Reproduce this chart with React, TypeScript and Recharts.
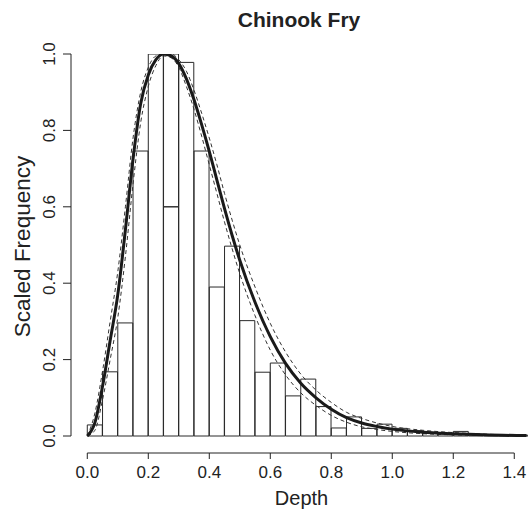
import React from 'react';
import { ComposedChart, Bar, Line, XAxis, YAxis, ReferenceLine } from 'recharts';

// histogram bins (width 0.05), scaled frequency
const binStarts = [
  0, 0.05, 0.1, 0.15, 0.2, 0.25, 0.3, 0.35, 0.4, 0.45,
  0.5, 0.55, 0.6, 0.65, 0.7, 0.75, 0.8, 0.85, 0.9, 0.95,
  1.0, 1.05, 1.1, 1.15, 1.2, 1.25, 1.3, 1.35, 1.4,
];
const binFreq = [
  0.029, 0.168, 0.296, 0.746, 1.0, 1.0, 0.978, 0.746, 0.39, 0.497,
  0.302, 0.167, 0.191, 0.105, 0.149, 0.077, 0.021, 0.05, 0.02, 0.031,
  0.02, 0.014, 0.008, 0.006, 0.012, 0.003, 0.004, 0.004, 0.002,
];
// inner division line seen inside one bin
const binSplit = [
  null, null, null, null, null, 0.6, null, null, null, null,
  null, null, null, null, null, null, null, null, null, null,
  null, null, null, null, null, null, null, null, null,
];

// fitted curve and its dashed bounds
const curveX = [
  0, 0.025, 0.05, 0.075, 0.1, 0.125, 0.15, 0.175, 0.2, 0.225,
  0.25, 0.275, 0.3, 0.325, 0.35, 0.375, 0.4, 0.425, 0.45, 0.475,
  0.5, 0.55, 0.6, 0.65, 0.7, 0.75, 0.8, 0.85, 0.9, 0.95,
  1.0, 1.1, 1.2, 1.3, 1.44,
];
const curveMid = [
  0, 0.035, 0.13, 0.25, 0.37, 0.54, 0.725, 0.87, 0.945, 0.985,
  1.0, 0.995, 0.975, 0.935, 0.88, 0.815, 0.745, 0.67, 0.595, 0.525,
  0.46, 0.35, 0.26, 0.19, 0.138, 0.1, 0.07, 0.048, 0.034, 0.025,
  0.018, 0.01, 0.006, 0.003, 0.001,
];
const curveUpper = [
  0, 0.06, 0.17, 0.3, 0.43, 0.6, 0.78, 0.9, 0.965, 0.995,
  1.0, 1.0, 0.985, 0.955, 0.905, 0.845, 0.78, 0.71, 0.635, 0.565,
  0.5, 0.39, 0.295, 0.22, 0.162, 0.12, 0.088, 0.062, 0.046, 0.034,
  0.025, 0.015, 0.009, 0.005, 0.002,
];
const curveLower = [
  0, 0.015, 0.095, 0.2, 0.31, 0.47, 0.66, 0.82, 0.915, 0.97,
  0.995, 0.99, 0.965, 0.915, 0.855, 0.785, 0.71, 0.635, 0.56, 0.49,
  0.425, 0.315, 0.225, 0.16, 0.113, 0.08, 0.054, 0.036, 0.024, 0.017,
  0.012, 0.006, 0.003, 0.0015, 0.0005,
];

const xTicks = [0, 0.2, 0.4, 0.6, 0.8, 1.0, 1.2, 1.4];
const yTicks = [0, 0.2, 0.4, 0.6, 0.8, 1.0];

const BIN_W = 0.05;
const X_MIN = -0.0534;
const X_MAX = 1.445;
const Y_MIN = -0.0445;

const bars = binStarts.map((s, i) => {
  const split = binSplit[i];
  return {
    x: s + BIN_W / 2,
    lower: split != null ? split : binFreq[i],
    upper: split != null ? binFreq[i] - split : 0,
  };
});

const curve = curveX.map((x, i) => ({
  x,
  mid: curveMid[i],
  hi: curveUpper[i],
  lo: curveLower[i],
}));

const FONT = '"Liberation Sans", Arial, Helvetica, sans-serif';
const INK = '#222';

const YTick = (props: any) => {
  const { y, payload } = props;
  const bx = 55;
  return (
    <text
      x={bx}
      y={y}
      transform={`rotate(-90 ${bx} ${y})`}
      textAnchor="middle"
      fontSize={17}
      fill={INK}
      fontFamily={FONT}
    >
      {Number(payload.value).toFixed(1)}
    </text>
  );
};

export default function App() {
  return (
    <div style={{ position: 'relative', width: 528, height: 509, fontFamily: FONT, background: '#fff' }}>
      <style>{'body{margin:0}'}</style>
      <ComposedChart
        width={528}
        height={509}
        data={bars}
        margin={{ top: 54, right: 0, bottom: 0, left: 0 }}
        barGap={0}
        barCategoryGap={0}
      >
        <XAxis
          type="number"
          dataKey="x"
          domain={[X_MIN, X_MAX]}
          allowDataOverflow
          ticks={xTicks}
          tickFormatter={(v: number) => v.toFixed(1)}
          height={56}
          axisLine={false}
          tickSize={6}
          tickMargin={7}
          tickLine={{ stroke: INK }}
          tick={{ fontSize: 17, fill: INK, fontFamily: FONT }}
          label={{
            content: () => (
              <g>
                <text x={299} y={27} textAnchor="middle" fontSize={21} fontWeight="bold" fill={INK} fontFamily={FONT}>
                  Chinook Fry
                </text>
                <text x={301.5} y={505} textAnchor="middle" fontSize={20} fill={INK} fontFamily={FONT}>
                  Depth
                </text>
              </g>
            ),
          }}
        />
        <XAxis xAxisId="curve" type="number" dataKey="x" domain={[X_MIN, X_MAX]} allowDataOverflow hide />
        <YAxis
          type="number"
          domain={[Y_MIN, 1]}
          allowDataOverflow
          ticks={yTicks}
          width={71}
          axisLine={false}
          tickSize={8}
          tickLine={{ stroke: INK }}
          tick={<YTick />}
          label={{
            content: () => (
              <text
                x={29.5}
                y={246.5}
                transform="rotate(-90 29.5 246.5)"
                textAnchor="middle"
                fontSize={22.5}
                fill={INK}
                fontFamily={FONT}
              >
                Scaled Frequency
              </text>
            ),
          }}
        />
        <ReferenceLine
          segment={[{ x: X_MIN, y: 0 }, { x: X_MIN, y: 1 }]}
          stroke={INK}
          ifOverflow="visible"
        />
        <ReferenceLine
          segment={[{ x: 0, y: Y_MIN }, { x: 1.4, y: Y_MIN }]}
          stroke={INK}
          ifOverflow="visible"
        />
        <Bar dataKey="lower" stackId="h" fill="none" stroke="#2a2a2a" strokeWidth={1} isAnimationActive={false} />
        <Bar dataKey="upper" stackId="h" fill="none" stroke="#2a2a2a" strokeWidth={1} isAnimationActive={false} />
        <Line xAxisId="curve" data={curve} dataKey="hi" type="monotone" stroke="#333" strokeWidth={1} strokeDasharray="4 3" dot={false} isAnimationActive={false} />
        <Line xAxisId="curve" data={curve} dataKey="lo" type="monotone" stroke="#333" strokeWidth={1} strokeDasharray="4 3" dot={false} isAnimationActive={false} />
        <Line xAxisId="curve" data={curve} dataKey="mid" type="monotone" stroke="#1a1a1a" strokeWidth={3} dot={false} isAnimationActive={false} />
      </ComposedChart>
    </div>
  );
}
